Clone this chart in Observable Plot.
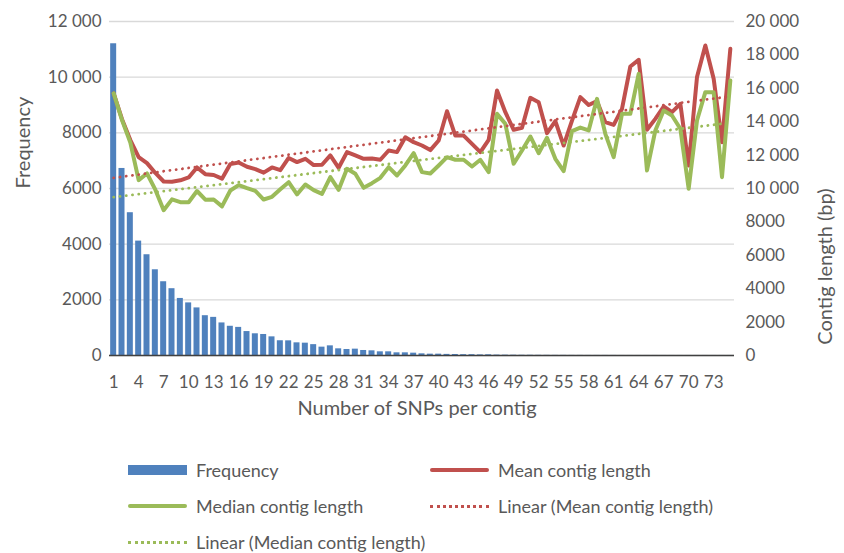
<!DOCTYPE html>
<html><head><meta charset="utf-8">
<script src="https://cdn.jsdelivr.net/npm/d3@7"></script>
<script src="https://cdn.jsdelivr.net/npm/@observablehq/plot@0.6"></script>
<style>
body{margin:0;background:#fff;font-family:Lato,sans-serif;color:#595959}
#wrap{position:relative;width:844px;height:553px;overflow:hidden}
.lg{position:absolute;display:flex;align-items:center;font-size:18px;height:20px;white-space:nowrap}
.sw{display:inline-block;width:59px;margin-right:9px}
.ln{height:4px;border-radius:2px}
.dt{height:0;border-top:3px dotted}
</style></head><body><div id="wrap"><div id="chart"></div>
<div class="lg" style="left:128px;top:460px"><span class="sw" style="height:10px;background:#4F81BD"></span>Frequency</div>
<div class="lg" style="left:430px;top:460px"><span class="sw ln" style="background:#C0504D"></span>Mean contig length</div>
<div class="lg" style="left:128px;top:496px"><span class="sw ln" style="background:#9BBB59"></span>Median contig length</div>
<div class="lg" style="left:430px;top:496px"><span class="sw dt" style="border-color:#C0504D"></span>Linear (Mean contig length)</div>
<div class="lg" style="left:128px;top:532px"><span class="sw dt" style="border-color:#9BBB59"></span>Linear (Median contig length)</div>
</div>
<script>
const snps = [1,2,3,4,5,6,7,8,9,10,11,12,13,14,15,16,17,18,19,20,21,22,23,24,25,26,27,28,29,30,31,32,33,34,35,36,37,38,39,40,41,42,43,44,45,46,47,48,49,50,51,52,53,54,55,56,57,58,59,60,61,62,63,64,65,66,67,68,69,70,71,72,73,74,75];
const frequency = [11200,6720,5130,4110,3620,3080,2650,2400,2050,1890,1710,1430,1370,1170,1050,1010,860,780,755,670,530,527,455,443,390,300,347,240,216,228,180,168,132,132,96,96,84,60,48,48,40,36,30,30,22,26,15,12,10,8,8,6,5,4,4,3,3,2,2,2,2,1,1,1,1,1,1,1,1,1,1,1,1,1,1];
const meanLength = [15700,14150,12900,11875,11517,10930,10420,10410,10490,10660,11260,10860,10810,10590,11460,11560,11300,11160,10950,11260,11100,11830,11580,11780,11400,11420,11980,11240,12180,11980,11780,11800,11720,12275,12180,13070,12775,12575,12300,12875,14630,13170,13170,12675,12175,12915,15870,14570,13515,13635,15430,15170,13315,14030,12575,14070,15470,15000,15230,13970,13810,14770,17305,17705,13515,14170,14910,14570,15070,11380,16670,18560,16570,12775,18365];
const medianLength = [15700,14100,12750,10500,10900,9930,8700,9350,9180,9180,9850,9330,9340,8930,9880,10200,10020,9860,9340,9500,9950,10380,9650,10240,9900,9680,10680,9920,11180,10880,10040,10320,10640,11280,10780,11380,12120,10980,10900,11380,11875,11720,11720,11320,11720,10980,14470,13875,11480,12275,13115,12115,13035,11780,11040,13435,13650,13475,15370,13275,11875,14470,14470,16865,11080,13475,14670,14370,13575,9980,14070,15770,15770,10680,16470];
const xTicks = [1,4,7,10,13,16,19,22,25,28,31,34,37,40,43,46,49,52,55,58,61,64,67,70,73];
const leftTicks = [0,2000,4000,6000,8000,10000,12000];
const rightTicks = [0,2000,4000,6000,8000,10000,12000,14000,16000,18000,20000];

const K = 12000 / 20000;
const rows = snps.map((n, i) => ({n, freq: frequency[i], mean: meanLength[i], median: medianLength[i]}));
const fmt = v => v >= 10000 ? d3.format(",")(v).replace(/,/g, " ") : String(v);

const chart = Plot.plot({
  width: 844, height: 430,
  marginLeft: 109, marginRight: 110, marginTop: 21, marginBottom: 75,
  style: {fontFamily: "Lato, sans-serif", fontSize: "17px", color: "#595959", background: "white"},
  x: {type: "linear", domain: [0.5, 75.5]},
  y: {domain: [0, 12000]},
  marks: [
    Plot.gridY(leftTicks, {stroke: "#d9d9d9", strokeOpacity: 1, strokeWidth: 1.3}),
    Plot.axisY(leftTicks, {anchor: "left", tickSize: 0, tickPadding: 8, tickFormat: fmt, label: null}),
    Plot.axisY(rightTicks.map(t => t * K), {anchor: "right", tickSize: 0, tickPadding: 11, tickFormat: d => fmt(Math.round(d / K)), label: null}),
    Plot.axisX(xTicks, {anchor: "bottom", tickSize: 0, tickPadding: 20, tickFormat: d => String(d), label: null}),
    Plot.rectY(rows, {x1: d => d.n - 0.36, x2: d => d.n + 0.36, y: "freq", fill: "#4F81BD"}),
    Plot.ruleY([0], {stroke: "#404040", strokeWidth: 1.5}),
    Plot.line(rows, {x: "n", y: d => d.mean * K, stroke: "#C0504D", strokeWidth: 4, strokeLinejoin: "round", strokeLinecap: "round"}),
    Plot.line(rows, {x: "n", y: d => d.median * K, stroke: "#9BBB59", strokeWidth: 4, strokeLinejoin: "round", strokeLinecap: "round"}),
    Plot.linearRegressionY(rows, {x: "n", y: d => d.mean * K, stroke: "#C0504D", ci: 0, strokeWidth: 2.8, strokeDasharray: "0.1 6.2", strokeLinecap: "round"}),
    Plot.linearRegressionY(rows, {x: "n", y: d => d.median * K, stroke: "#9BBB59", ci: 0, strokeWidth: 2.8, strokeDasharray: "0.1 6.2", strokeLinecap: "round"}),
    Plot.text(["Frequency"], {frameAnchor: "left", rotate: -90, dx: -86, fontSize: 20}),
    Plot.text(["Contig length (bp)"], {frameAnchor: "right", rotate: -90, dx: 91, fontSize: 20}),
    Plot.text(["Number of SNPs per contig"], {frameAnchor: "bottom", dy: 59, dx: -5, fontSize: 20})
  ]
});
document.getElementById("chart").appendChild(chart);
</script>
</body></html>
